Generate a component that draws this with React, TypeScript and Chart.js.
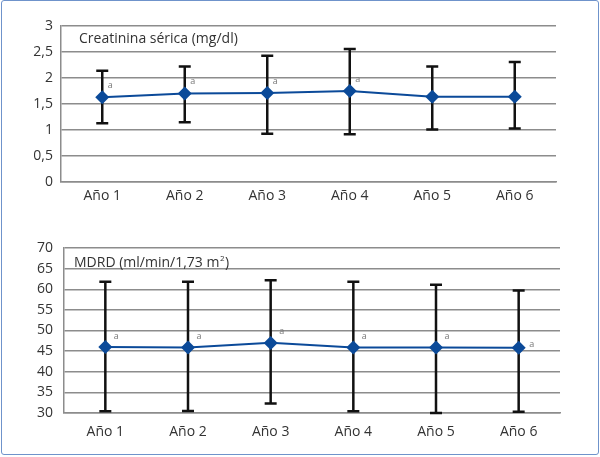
import React, { useEffect, useRef } from 'react';
import { Chart, registerables } from 'chart.js';
Chart.register(...registerables);

const categories = ['Año 1', 'Año 2', 'Año 3', 'Año 4', 'Año 5', 'Año 6'];

const creatTitle = 'Creatinina sérica (mg/dl)';
const creatMean = [1.63, 1.7, 1.71, 1.75, 1.64, 1.64];
const creatLow = [1.13, 1.15, 0.93, 0.92, 1.01, 1.03];
const creatHigh = [2.14, 2.22, 2.43, 2.56, 2.22, 2.31];
const creatMark = ['a', 'a', 'a', 'a', '', ''];
const creatMin = 0;
const creatMax = 3;
const creatStep = 0.5;

const mdrdTitle = 'MDRD (ml/min/1,73 m';
const mdrdTitleSup = '2';
const mdrdTitleEnd = ')';
const mdrdMean = [46.0, 45.9, 47.0, 45.9, 45.9, 45.8];
const mdrdLow = [30.4, 30.5, 32.3, 30.4, 30.0, 30.3];
const mdrdHigh = [61.8, 61.8, 62.2, 61.8, 61.1, 59.7];
const mdrdMark = ['a', 'a', 'a', 'a', 'a', 'a'];
const mdrdMin = 30;
const mdrdMax = 70;
const mdrdStep = 5;

const FONT = "'Open Sans', 'DejaVu Sans', sans-serif";
const BLUE = '#0b4a99';
const GRID = '#8c8c8c';
const TEXT = '#333333';

type Props = {
  top: number;
  height: number;
  mean: number[];
  low: number[];
  high: number[];
  mark: string[];
  min: number;
  max: number;
  step: number;
  title: string;
  titleSup?: string;
  titleEnd?: string;
  pad: { top: number; right: number };
  yWidth: number;
  xHeight: number;
  yPad: number;
  xPad: number;
  titleOff: { dx: number; dy: number };
  markOff: { dx: number; dy: number };
  lastMarkRight?: boolean;
};

function ErrorChart(p: Props) {
  const ref = useRef<HTMLCanvasElement | null>(null);
  useEffect(() => {
    if (!ref.current) return;
    const plugin = {
      id: 'errbars',
      beforeDatasetsDraw(chart: any) {
        const { ctx, scales } = chart;
        const x = scales.x;
        const y = scales.y;
        ctx.save();
        ctx.strokeStyle = '#111111';
        ctx.lineWidth = 2.5;
        p.low.forEach((lo, i) => {
          const px = x.getPixelForValue(i);
          const yl = y.getPixelForValue(lo);
          const yh = y.getPixelForValue(p.high[i]);
          ctx.beginPath();
          ctx.moveTo(px, yl);
          ctx.lineTo(px, yh);
          ctx.moveTo(px - 6, yl);
          ctx.lineTo(px + 6, yl);
          ctx.moveTo(px - 6, yh);
          ctx.lineTo(px + 6, yh);
          ctx.stroke();
        });
        ctx.restore();
      },
      afterDatasetsDraw(chart: any) {
        const { ctx, scales, chartArea } = chart;
        const x = scales.x;
        const y = scales.y;
        ctx.save();
        ctx.fillStyle = '#777777';
        ctx.font = `9px ${FONT}`;
        ctx.textBaseline = 'middle';
        ctx.textAlign = 'center';
        p.mark.forEach((m, i) => {
          if (!m) return;
          const px = x.getPixelForValue(i);
          const py = y.getPixelForValue(p.mean[i]);
          const last = p.lastMarkRight && i === p.mark.length - 1;
          ctx.fillText(m, px + (last ? 13 : p.markOff.dx), py + (last ? -3 : p.markOff.dy));
        });
        ctx.fillStyle = TEXT;
        ctx.textAlign = 'left';
        ctx.font = `14px ${FONT}`;
        const tx = chartArea.left + p.titleOff.dx;
        const ty = chartArea.top + p.titleOff.dy;
        ctx.fillText(p.title, tx, ty);
        let w = ctx.measureText(p.title).width;
        if (p.titleSup) {
          ctx.font = `8px ${FONT}`;
          ctx.fillText(p.titleSup, tx + w + 0.5, ty - 4);
          w += ctx.measureText(p.titleSup).width + 1;
          ctx.font = `14px ${FONT}`;
          ctx.fillText(p.titleEnd || '', tx + w, ty);
        }
        ctx.restore();
      },
    };
    const chart = new Chart(ref.current, {
      type: 'line',
      data: {
        labels: categories,
        datasets: [
          {
            data: p.mean,
            borderColor: BLUE,
            backgroundColor: BLUE,
            borderWidth: 2,
            pointStyle: 'rectRot',
            pointRadius: 7,
            pointBorderWidth: 0,
            pointBackgroundColor: BLUE,
            tension: 0,
          },
        ],
      },
      options: {
        animation: false,
        responsive: false,
        devicePixelRatio: 1,
        layout: { padding: { left: 0, right: p.pad.right, top: p.pad.top, bottom: 0 } },
        plugins: { legend: { display: false }, tooltip: { enabled: false }, title: { display: false } },
        scales: {
          x: {
            type: 'category',
            offset: true,
            grid: { display: false, drawTicks: false },
            border: { display: true, color: GRID, width: 1.5 },
            ticks: { color: TEXT, font: { family: FONT, size: 14 }, padding: p.xPad, maxRotation: 0 },
            afterFit: (s: any) => {
              s.height = p.xHeight;
            },
          },
          y: {
            min: p.min,
            max: p.max,
            grid: { color: GRID, lineWidth: 1.5, drawTicks: false },
            border: { display: true, color: GRID, width: 1.5 },
            ticks: {
              stepSize: p.step,
              color: TEXT,
              font: { family: FONT, size: 14 },
              padding: p.yPad,
              callback: (v: any) => String(v).replace('.', ','),
            },
            afterFit: (s: any) => {
              s.width = p.yWidth;
            },
          },
        },
      },
      plugins: [plugin],
    } as any);
    return () => chart.destroy();
  }, []);
  return (
    <canvas
      ref={ref}
      width={600}
      height={p.height}
      style={{ position: 'absolute', left: 0, top: p.top, width: 600, height: p.height }}
    />
  );
}

export default function App() {
  return (
    <div style={{ position: 'absolute', left: 0, top: 0, width: 600, height: 457, background: '#fff' }}>
      <div
        style={{
          position: 'absolute',
          left: 1,
          top: 0,
          width: 598,
          height: 455,
          boxSizing: 'border-box',
          border: '1.5px solid #6f93cb',
          borderRadius: 3,
        }}
      />
      <ErrorChart
        top={0}
        height={220}
        mean={creatMean}
        low={creatLow}
        high={creatHigh}
        mark={creatMark}
        min={creatMin}
        max={creatMax}
        step={creatStep}
        title={creatTitle}
        pad={{ top: 26, right: 44 }}
        yWidth={61}
        xHeight={38}
        yPad={8}
        xPad={6}
        titleOff={{ dx: 18, dy: 13 }}
        markOff={{ dx: 8, dy: -12 }}
      />
      <ErrorChart
        top={220}
        height={237}
        mean={mdrdMean}
        low={mdrdLow}
        high={mdrdHigh}
        mark={mdrdMark}
        min={mdrdMin}
        max={mdrdMax}
        step={mdrdStep}
        title={mdrdTitle}
        titleSup={mdrdTitleSup}
        titleEnd={mdrdTitleEnd}
        pad={{ top: 28, right: 40 }}
        yWidth={64}
        xHeight={44}
        yPad={11}
        xPad={11}
        titleOff={{ dx: 10, dy: 15 }}
        markOff={{ dx: 11, dy: -11 }}
        lastMarkRight
      />
    </div>
  );
}
